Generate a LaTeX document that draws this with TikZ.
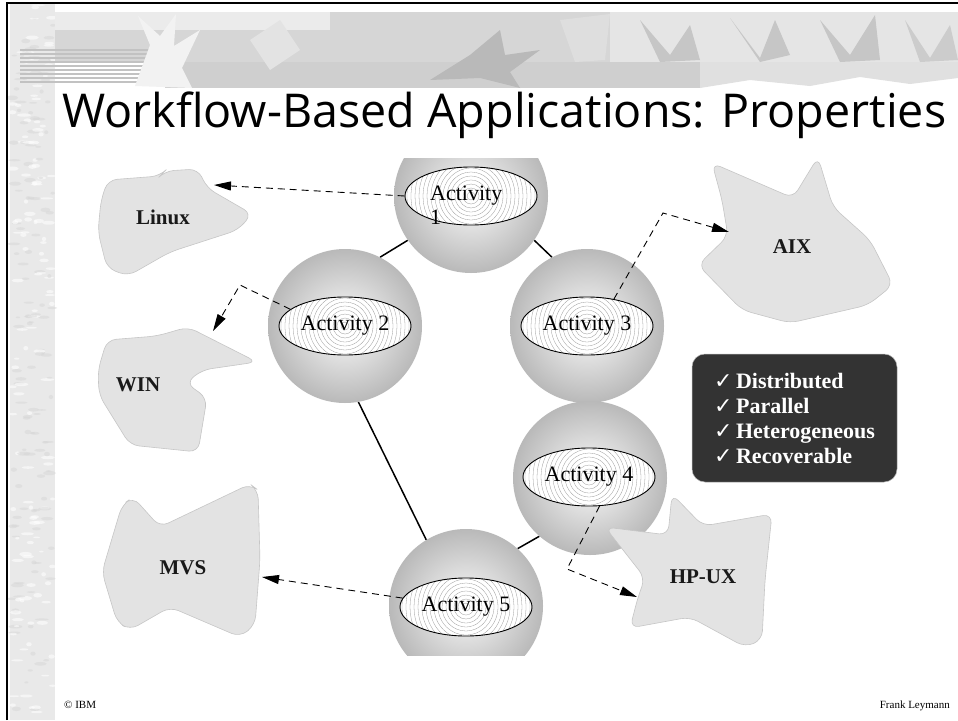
\documentclass[tikz,border=0pt]{standalone}
\usepackage{fontspec}
\setmainfont{Liberation Serif}
\newfontfamily\titlefont{Open Sans}
\newfontfamily\symfont{DejaVu Sans}
\usetikzlibrary{shapes.geometric,arrows.meta}
\definecolor{boxgray}{HTML}{333333}
\definecolor{shapefill}{HTML}{E3E3E3}
\definecolor{shapeline}{HTML}{C6C6C6}
\pgfdeclarelayer{bg}
\pgfdeclarelayer{links}
\pgfsetlayers{bg,links,main}
\newcommand{\ckm}{{\symfont\bfseries ✓}}
\tikzset{
  sphere/.style={circle, minimum size=154pt, inner sep=0pt, inner color=gray!3, outer color=gray!55},
  actell/.style={ellipse, draw=black, line width=0.9pt, minimum width=132pt, minimum height=58pt, inner sep=0pt, fill=white,
    font=\fontsize{22}{24}\selectfont,
    path picture={\foreach \r in {4,8,...,72}{\draw[gray!80, line width=0.3pt] (path picture bounding box.center) circle (\r pt);}}},
  acttext/.style={font=\fontsize{22}{24}\selectfont, align=left, inner sep=0pt},
  cloud/.style={fill=shapefill, draw=shapeline, line width=0.6pt, rounded corners=9pt},
  oslabel/.style={font=\fontsize{21}{24}\selectfont\bfseries, text=black!90},
  link/.style={line width=1.5pt},
  depl/.style={dash pattern=on 7pt off 5pt, line width=0.9pt, -{Triangle[length=17pt,width=9pt]}},
  propbox/.style={rounded corners=13pt, fill=boxgray, draw=gray!60, line width=0.5pt, minimum width=205pt, minimum height=128pt,
    text=white, font=\fontsize{22}{25}\selectfont\bfseries, align=left},
  foot/.style={font=\fontsize{11}{13}\selectfont, inner sep=0pt},
}
\begin{document}
\begin{tikzpicture}[x=1pt,y=-1pt]
\useasboundingbox (0,0) rectangle (958,720);
\begin{pgfonlayer}{bg}
\fill[white] (0,0) rectangle (958,720);
% left textured strip
\fill[gray!17] (10,3) rectangle (55,720);
\pgfmathsetseed{7}
\foreach \i in {1,...,260}{
  \pgfmathsetmacro\px{12+41*rnd}
  \pgfmathsetmacro\py{5+712*rnd}
  \pgfmathsetmacro\rw{2+5*rnd}
  \pgfmathsetmacro\rh{0.8+1.5*rnd}
  \pgfmathsetmacro\sh{rnd}
  \ifdim\sh pt<0.5pt
    \fill[gray!32, opacity=0.5] (\px,\py) ellipse ({\rw pt} and {\rh pt});
  \else
    \fill[white, opacity=0.55] (\px,\py) ellipse ({\rw pt} and {\rh pt});
  \fi
}
% banner
\fill[gray!32] (55,12) rectangle (958,62);
\fill[gray!38] (165,62) rectangle (700,88);
\fill[gray!16] (55,12) rectangle (330,30);
\fill[gray!20] (610,12) rectangle (958,62);
\fill[gray!24] (700,62) -- (958,62) -- (958,78) -- (910,84) -- (860,77) -- (810,86) -- (750,80) -- (700,88) -- cycle;
\foreach \yy in {50,54,...,82} \draw[gray!48, line width=1.4pt] (20,\yy) -- (165,\yy);
\fill[gray!10] (135,86) -- (150,45) -- (138,16) -- (160,36) -- (176,14) -- (174,46) -- (200,30) -- (182,68) -- (192,88) -- cycle;
\fill[gray!55] (430,80) -- (470,55) -- (500,30) -- (505,55) -- (540,50) -- (510,72) -- (520,88) -- (480,78) -- cycle;
\fill[gray!22] (250,40) -- (280,20) -- (300,50) -- (270,70) -- cycle;
\fill[gray!45] (640,20) -- (670,55) -- (690,25) -- (700,60) -- (660,62) -- cycle;
\fill[gray!45] (730,18) -- (760,58) -- (775,20) -- (790,55) -- (760,62) -- cycle;
\fill[gray!45] (820,20) -- (850,55) -- (875,15) -- (880,60) -- (840,62) -- cycle;
\fill[gray!40] (905,20) -- (930,58) -- (950,25) -- (958,60) -- (920,62) -- cycle;
\fill[gray!26] (560,20) -- (610,14) -- (605,60) -- (575,62) -- cycle;
% frame
\draw[black, line width=2.5pt] (7,720) -- (7,3) -- (958,3);
\end{pgfonlayer}

% title
\node[anchor=base west, inner sep=0pt] (title) at (62,127) {\resizebox{884pt}{!}{\titlefont Workflow-Based Applications: Properties}};

% spheres
\begin{scope}
\clip (0,158) rectangle (958,655);
\node[sphere] (s1) at (471,196) {};
\node[sphere] (s2) at (345,326) {};
\node[sphere] (s3) at (587,326) {};
\node[sphere] (s4) at (590,478) {};
\node[sphere] (s5) at (466,606) {};
\node[actell] (e1) at (471,196) {};
\node[actell] (e2) at (345,326) {Activity 2};
\node[actell] (e3) at (587,326) {Activity 3};
\node[actell] (e4) at (589,477) {Activity 4};
\node[actell] (e5) at (466,607) {Activity 5};
\end{scope}
\node[acttext, anchor=north west] (t1) at (430,186) {Activity\\1};

% control links
\begin{pgfonlayer}{links}
\draw[link] (s1.215) -- (s2.63);
\draw[link] (s1.325) -- (s3.117);
\draw[link] (s2.-80) -- (s5.121);
\draw[link] (s4.229) -- (s5.48);
\end{pgfonlayer}

% platforms
\draw[cloud] (108,180) -- (160,176) -- (165,171) -- (198,169) -- (207,188) -- (252,214) -- (238,230) -- (170,252) -- (128,276) -- (107,268) -- (98,232) -- (101,200) -- cycle;
\node[oslabel] (linux) at (163,217) {Linux};
\draw[cloud] (107,340) -- (157,336) -- (188,327) -- (257,362) -- (202,370) -- (186,383) -- (207,398) -- (198,452) -- (130,445) -- (99,395) -- (98,370) -- cycle;
\node[oslabel] (win) at (138,385) {WIN};
\draw[cloud] (122,505) -- (133,497) -- (160,527) -- (250,484) -- (258,490) -- (260,560) -- (255,625) -- (240,637) -- (170,607) -- (130,630) -- (117,622) -- (102,572) -- cycle;
\node[oslabel] (mvs) at (183,568) {MVS};
\draw[cloud] (712,163) -- (793,198) -- (818,157) -- (833,207) -- (870,240) -- (893,285) -- (868,305) -- (790,323) -- (742,310) -- (698,265) -- (728,236) -- (722,200) -- cycle;
\node[oslabel] (aix) at (792,247) {AIX};
\draw[cloud] (605,527) -- (668,535) -- (672,494) -- (703,526) -- (772,514) -- (765,580) -- (762,640) -- (745,647) -- (690,617) -- (630,628) -- (638,597) -- (645,578) -- cycle;
\node[oslabel] (hpux) at (703,577) {HP-UX};

% deployment arrows
\coordinate (linuxtip) at (214,185);
\coordinate (wintip) at (213,331);
\coordinate (aixtip) at (729,232);
\coordinate (hptip) at (637,597);
\coordinate (mvstip) at (262,577);
\coordinate (c2) at (240,285);
\coordinate (c3) at (663,213);
\coordinate (c4) at (567,569);
\draw[depl] (e1.west) -- (linuxtip);
\draw[depl] (e2.163) -- (c2) -- (wintip);
\draw[depl] (e3.45) -- (c3) -- (aixtip);
\draw[depl] (e4.-70) -- (c4) -- (hptip);
\draw[depl] (e5.172) -- (mvstip);

% properties box
\node[propbox] (props) at (794.5,418) {\ckm\,Distributed\\\ckm\,Parallel\\\ckm\,Heterogeneous\\\ckm\,Recoverable};

% footer
\node[foot, anchor=base west] (ibm) at (64,708) {© IBM};
\node[foot, anchor=base east] (author) at (950,708) {Frank Leymann};
\end{tikzpicture}
\end{document}
